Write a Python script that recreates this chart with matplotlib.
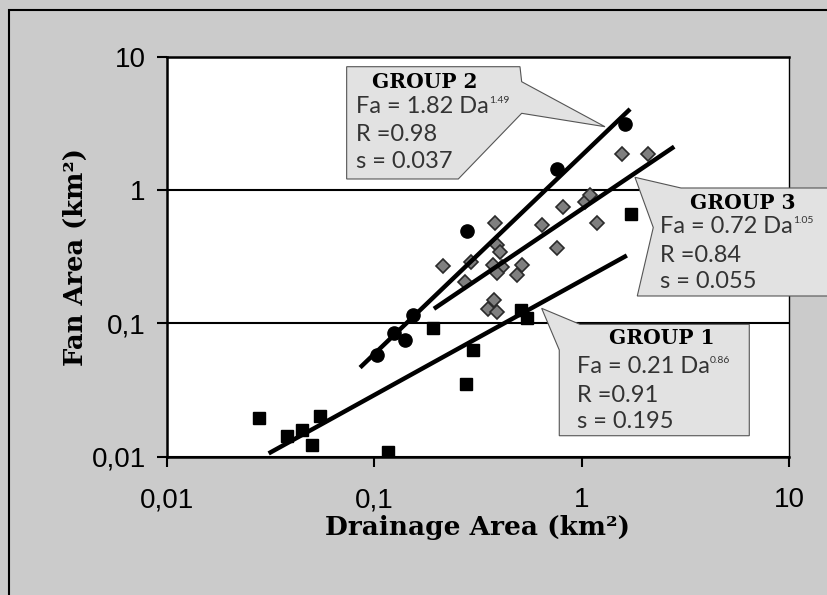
import matplotlib.pyplot as plt
import numpy as np
from matplotlib.patches import Polygon, Rectangle
from matplotlib.ticker import NullLocator

# Group 1 - black squares (drainage area, fan area in km2)
g1_da = [0.028, 0.038, 0.045, 0.055, 0.050, 0.116, 0.192, 0.300, 0.278, 0.507, 0.546, 1.73]
g1_fa = [0.0194, 0.0143, 0.0160, 0.0202, 0.0122, 0.0109, 0.0917, 0.063, 0.0349, 0.126, 0.109, 0.658]

# Group 2 - black circles
g2_da = [0.103, 0.124, 0.141, 0.154, 0.279, 0.758, 1.617]
g2_fa = [0.0578, 0.0841, 0.075, 0.1155, 0.495, 1.43, 3.126]

# Group 3 - grey diamonds
g3_da = [0.214, 0.274, 0.292, 0.354, 0.379, 0.390, 0.375, 0.391, 0.404, 0.413, 0.390,
         0.382, 0.488, 0.516, 0.644, 0.760, 0.813, 1.037, 1.096, 1.185, 1.564, 2.087]
g3_fa = [0.269, 0.204, 0.288, 0.128, 0.150, 0.122, 0.274, 0.387, 0.343, 0.265, 0.238,
         0.566, 0.230, 0.274, 0.546, 0.367, 0.746, 0.813, 0.917, 0.566, 1.862, 1.862]

# power-law fits Fa = a * Da^b and the Da span each trend line covers
fit_coef = [0.21, 1.82, 0.72]
fit_exp = [0.86, 1.49, 1.05]
fit_span = [(0.031, 1.65), (0.0855, 1.71), (0.194, 2.79)]
group_names = ['GROUP 1', 'GROUP 2', 'GROUP 3']
r_values = ['0.91', '0.98', '0.84']
s_values = ['0.195', '0.037', '0.055']

tick_vals = [0.01, 0.1, 1, 10]
tick_labels = ['0,01', '0,1', '1', '10']

BG = '#cbcbcb'


def callout(ax, outline, title_xy, text_x, base_y, i):
    """Excel style wedge callout with the fit equation of group i."""
    ax.add_patch(Polygon(outline, closed=True, transform=ax.transAxes,
                         facecolor='#e2e2e2', edgecolor='#555555', lw=0.8,
                         clip_on=False, zorder=5))
    ax.text(title_xy[0], title_xy[1], group_names[i], transform=ax.transAxes,
            ha='center', va='center', family='DejaVu Serif', weight='bold',
            fontsize=14.5, color='black', zorder=6)
    kw = dict(transform=ax.transAxes, ha='left', va='baseline', family='Lato',
              fontsize=17, color='#333333', zorder=6)
    eq = ax.text(text_x, base_y[0], f'Fa = {fit_coef[i]:.2f} Da', **kw)
    ax.annotate(f'{fit_exp[i]:.2f}', xy=(1, 1), xycoords=eq, xytext=(0.5, 0),
                textcoords='offset points', ha='left', va='top', family='Lato',
                fontsize=7.5, color='#333333', zorder=6)
    ax.text(text_x, base_y[1], f'R ={r_values[i]}', **kw)
    ax.text(text_x, base_y[2], f's = {s_values[i]}', **kw)


fig = plt.figure(figsize=(8.28, 5.95), dpi=100, facecolor=BG)
fig.add_artist(Rectangle((9 / 828, -0.1), 1.2, 1 - 10 / 595 + 0.1,
                         transform=fig.transFigure, fill=False,
                         edgecolor='black', lw=1.5))
ax = fig.add_axes([0.2013, 0.2324, 0.7519, 0.6723])
ax.set_facecolor('white')
ax.set_xscale('log')
ax.set_yscale('log')
ax.set_xlim(0.01, 10)
ax.set_ylim(0.01, 10)

ax.yaxis.grid(True, color='black', lw=1.5)
ax.set_axisbelow(True)

ax.plot(g1_da, g1_fa, ls='none', marker='s', ms=9, mfc='black', mec='black', zorder=3)
ax.plot(g2_da, g2_fa, ls='none', marker='o', ms=9.5, mfc='black', mec='black', zorder=3)
ax.plot(g3_da, g3_fa, ls='none', marker='D', ms=7, mfc='#7f7f7f', mec='#2a2a2a',
        mew=1.2, zorder=3)

for a, b, span in zip(fit_coef, fit_exp, fit_span):
    da = np.array(span)
    ax.plot(da, a * da ** b, color='black', lw=3.2, solid_capstyle='butt', zorder=4)

ax.set_xticks(tick_vals)
ax.set_xticklabels(tick_labels)
ax.set_yticks(tick_vals)
ax.set_yticklabels(tick_labels)
ax.xaxis.set_minor_locator(NullLocator())
ax.yaxis.set_minor_locator(NullLocator())
ax.tick_params(axis='both', direction='out', length=7, width=1.5, labelsize=20)
ax.tick_params(axis='x', pad=15)
ax.tick_params(axis='y', pad=8)
for lab in ax.get_xticklabels() + ax.get_yticklabels():
    lab.set_family('Liberation Sans')

for side in ['left', 'bottom', 'top']:
    ax.spines[side].set_linewidth(1.8)
ax.spines['right'].set_linewidth(1.0)

ax.set_xlabel('Drainage Area (km²)', family='DejaVu Serif', weight='bold',
              fontsize=19, va='center')
ax.xaxis.set_label_coords(0.5, -0.176)
ax.set_ylabel('Fan Area (km²)', family='DejaVu Serif', weight='bold',
              fontsize=18.5, va='center')
ax.yaxis.set_label_coords(-0.147, 0.5)

# callouts (outline in axes fractions)
callout(ax, [(0.6023, 0.371), (0.6638, 0.331), (0.9358, 0.331), (0.9358, 0.0525),
             (0.6306, 0.0525), (0.6306, 0.2668)],
        (0.795, 0.298), 0.6585, [0.2085, 0.1375, 0.071], 0)
callout(ax, [(0.2891, 0.975), (0.5675, 0.975), (0.5702, 0.9375), (0.7040, 0.825),
             (0.5702, 0.8585), (0.4684, 0.6943), (0.2891, 0.6943)],
        (0.4149, 0.9375), 0.3041, [0.8605, 0.789, 0.7218], 1)
callout(ax, [(0.7522, 0.6985), (0.8261, 0.6718), (1.0814, 0.6718), (1.0814, 0.4018),
             (0.7559, 0.4018), (0.7816, 0.573)],
        (0.9256, 0.6355), 0.7923, [0.5585, 0.488, 0.421], 2)

fig.savefig('out.png', dpi=100, facecolor=BG)
